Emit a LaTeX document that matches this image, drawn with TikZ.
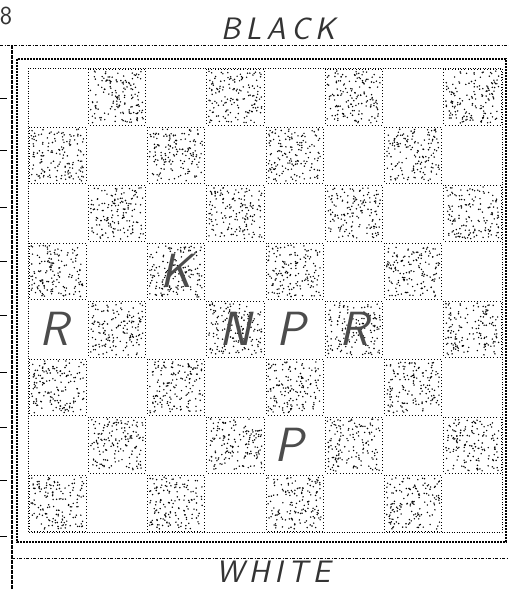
\documentclass[tikz,border=0pt]{standalone}
\usepackage{amssymb}
\usepackage{amsmath}
\usepackage{tikz}
\usetikzlibrary{calc, positioning}
\usepackage{color}

\tikzset{
	frameline/.style={line width=0.9pt, dash pattern=on 3pt off 1.5pt on 1pt off 1.5pt},
	boardline/.style={line width=1.4pt, dash pattern=on 2pt off 1pt},
	innerline/.style={line width=0.8pt, dash pattern=on 1pt off 1.5pt},
	darksq/.style={line width=0.9pt, dash pattern=on 1pt off 2.2pt},
	piece/.style={font=\fontsize{48}{48}\sffamily\itshape, text=black!70, inner sep=0pt},
	side/.style={font=\fontsize{31}{31}\sffamily\itshape, text=black!80, inner sep=0pt},
}

\begin{document}
\begin{tikzpicture}[x=1pt, y=-1pt]
			\useasboundingbox (0,0) rectangle (509,590);
			\pgfmathsetseed{1234}
			
			%frame
			\draw[frameline] (0,45) -- (509,45);
			\draw[line width=1.6pt, dash pattern=on 4pt off 1pt] (12,45) -- (12,590);
			\draw[frameline] (12,558) -- (509,558);
			\node[side] (black) at (278,29) {B\,L\,A\,C\,K};
			\node[side] (white) at (273,572) {W\,H\,I\,T\,E};
			\node[font=\fontsize{26}{26}\sffamily, text=black!80, inner sep=0pt] (rank) at (6,16) {8};
			
			%ticks on the left
			\foreach \t in {98,150,207,261,315,372,427,480,536}
			\draw[line width=0.8pt] (0,\t) -- (7,\t);
			
			%board borders
			\draw[boardline] (17,59) rectangle (506,542);
			\draw[innerline] (28,68) rectangle (502,532);
			
			%dark squares, stippled
			\foreach \r in {0,...,7}
			\foreach \c in {0,...,7}{
				\pgfmathtruncatemacro\odd{mod(\r+\c,2)}
				\ifnum\odd=1
				\draw[darksq] ({28+\c*59.25+1},{68+\r*58+1}) rectangle ++(57.25,56);
				\foreach \k in {1,...,150}
				\fill ({28+\c*59.25+3+rnd*53},{68+\r*58+3+rnd*52}) circle (0.8pt);
				\fi
			}
			
			%pieces
			\node[piece] (king) at ({28+2.5*59.25},{68+3.5*58}) {K};
			\node[piece] (rooka) at ({28+0.5*59.25-4},{68+4.5*58}) {R};
			\node[piece] (knight) at ({28+3.5*59.25},{68+4.5*58}) {N};
			\node[piece] (pawna) at ({28+4.5*59.25-4},{68+4.5*58}) {P};
			\node[piece] (rookb) at ({28+5.5*59.25},{68+4.5*58}) {R};
			\node[piece] (pawnb) at ({28+4.5*59.25-6},{68+6.5*58}) {P};
			
		\end{tikzpicture}
\end{document}
